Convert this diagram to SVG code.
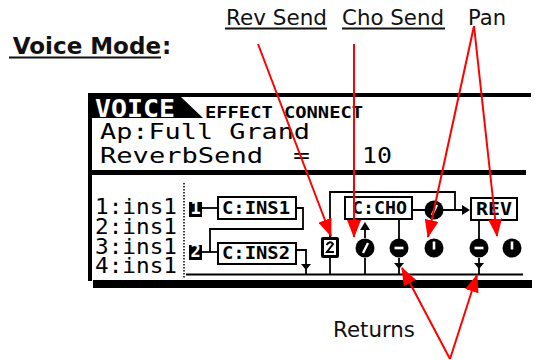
<svg xmlns="http://www.w3.org/2000/svg" width="548" height="360" viewBox="0 0 548 360">
<defs>
<style>
.lbl{font-family:"DejaVu Sans","Liberation Sans",sans-serif;font-size:21px;fill:#111}
.ttl{font-family:"DejaVu Sans","Liberation Sans",sans-serif;font-size:23px;font-weight:bold;fill:#111}
.lcd{font-family:"DejaVu Sans Mono","Liberation Mono",monospace;fill:#000}
.row{font-family:"DejaVu Sans Mono","Liberation Mono",monospace;font-size:21px;fill:#000}
.bt{font-family:"DejaVu Sans Mono","Liberation Mono",monospace;font-size:17px;font-weight:bold;fill:#000}
.wire{stroke:#000;stroke-width:1.8;fill:none}
.box{fill:#fff;stroke:#000;stroke-width:2}
.red{stroke:#f00;stroke-width:2;fill:none}
.ul{stroke:#111;stroke-width:2}
</style>
<marker id="ah" viewBox="0 0 18 14" refX="17" refY="7" markerWidth="18" markerHeight="14" markerUnits="userSpaceOnUse" orient="auto"><path d="M0,0 L18,7 L0,14 z" fill="#f00"/></marker>
<g id="kRet"><circle r="9.5" fill="#000"/><rect x="-4.5" y="-1.3" width="9" height="2.6" fill="#fff"/></g>
<g id="kPan"><circle r="9.5" fill="#000"/><rect x="-1.3" y="-6.5" width="2.6" height="8" fill="#fff"/></g>
<g id="kDia"><circle r="9.5" fill="#000"/><path d="M-2,5 L3,-5" stroke="#fff" stroke-width="2.4"/></g>
<path id="dn" d="M-5,-6 L5,-6 L0,0 z" fill="#000"/>
</defs>

<g id="title">
<text class="ttl" x="161" y="54" text-anchor="end">Voice Mode</text>
<text class="ttl" x="162" y="54">:</text>
<line class="ul" x1="9" y1="57.5" x2="161" y2="57.5"/>
</g>
<g id="lbl-rev"><text class="lbl" x="226" y="25" textLength="101" lengthAdjust="spacingAndGlyphs">Rev Send</text><line class="ul" x1="225" y1="28.5" x2="327" y2="28.5"/></g>
<g id="lbl-cho"><text class="lbl" x="342" y="25" textLength="102" lengthAdjust="spacingAndGlyphs">Cho Send</text><line class="ul" x1="342" y1="28.5" x2="445" y2="28.5"/></g>
<g id="lbl-pan"><text class="lbl" x="468" y="25" textLength="38" lengthAdjust="spacingAndGlyphs">Pan</text></g>
<g id="lbl-returns"><text class="lbl" x="333" y="337" textLength="82" lengthAdjust="spacingAndGlyphs">Returns</text></g>

<g id="lcd">
<rect x="88" y="93" width="443" height="4" fill="#000"/>
<rect x="88" y="93" width="4" height="188" fill="#000"/>
<rect x="93" y="280" width="439" height="8" fill="#000"/>
<rect x="88" y="170" width="438" height="5" fill="#000"/>
<path d="M91,97 H181 L203,118 H91 z" fill="#000"/>
<text class="lcd" x="95" y="117" font-size="24" font-weight="bold" style="fill:#fff" textLength="80" lengthAdjust="spacingAndGlyphs">VOICE</text>
<text class="lcd" x="205" y="118" font-size="15" font-weight="bold" textLength="158" lengthAdjust="spacingAndGlyphs">EFFECT CONNECT</text>
<text class="lcd" x="100" y="139" font-size="22" textLength="210" lengthAdjust="spacingAndGlyphs">Ap:Full Grand</text>
<text class="lcd" x="100" y="163" font-size="22" textLength="163" lengthAdjust="spacingAndGlyphs">ReverbSend</text>
<text class="lcd" x="293" y="163" font-size="22" textLength="17" lengthAdjust="spacingAndGlyphs">=</text>
<text class="lcd" x="362" y="163" font-size="22" textLength="30" lengthAdjust="spacingAndGlyphs">10</text>
<text class="row" x="95" y="214" textLength="82" lengthAdjust="spacingAndGlyphs">1:ins1</text>
<text class="row" x="95" y="234" textLength="82" lengthAdjust="spacingAndGlyphs">2:ins1</text>
<text class="row" x="95" y="254" textLength="82" lengthAdjust="spacingAndGlyphs">3:ins1</text>
<text class="row" x="95" y="273" textLength="82" lengthAdjust="spacingAndGlyphs">4:ins1</text>
<line x1="184" y1="183" x2="184" y2="278" stroke="#000" stroke-width="1.5" stroke-dasharray="1.5,1.5"/>
</g>

<g id="connectors">
<path class="wire" d="M202,208 H218"/>
<path class="wire" d="M296,208 H303 V229 H210 V252"/>
<path class="wire" d="M202,252 H218"/>
<path class="wire" d="M296,250 H306 V274"/>
<use href="#dn" x="306" y="270"/>
<path class="wire" d="M186,274.5 H523"/>
<path class="wire" d="M330,237 V192 H455 V210"/>
<path class="wire" d="M412,210 H462"/>
<path d="M462,205 L470,210 L462,215 z" fill="#000"/>
<path class="wire" d="M330,258 V274"/>
<path class="wire" d="M365,229 V238"/>
<path d="M360,230 L370,230 L365,222 z" fill="#000"/>
<path class="wire" d="M365,258 V274"/>
<path class="wire" d="M399,219 V239"/>
<path class="wire" d="M399,258 V274"/>
<use href="#dn" x="399" y="269"/>
<path class="wire" d="M479,220 V239"/>
<path class="wire" d="M479,258 V274"/>
<use href="#dn" x="479" y="269"/>
</g>

<g id="sw1"><rect x="189" y="202" width="13" height="15" fill="#000"/><text class="bt" x="195.5" y="214" font-size="13" text-anchor="middle" style="fill:#fff">1</text></g>
<g id="sw2"><rect x="189" y="245" width="13" height="15" fill="#000"/><text class="bt" x="195.5" y="257" font-size="13" text-anchor="middle" style="fill:#fff">2</text></g>
<g id="ins1"><rect class="box" x="218" y="197" width="78" height="22"/><text class="bt" x="222" y="214" textLength="68" lengthAdjust="spacingAndGlyphs">C:INS1</text></g>
<g id="ins2"><rect class="box" x="218" y="243" width="78" height="21"/><text class="bt" x="222" y="259" textLength="68" lengthAdjust="spacingAndGlyphs">C:INS2</text></g>
<g id="cho"><rect class="box" x="345" y="197" width="67" height="22"/><text class="bt" x="352" y="214" textLength="55" lengthAdjust="spacingAndGlyphs">C:CHO</text></g>
<g id="rev"><rect class="box" x="471" y="198" width="46" height="22"/><text class="bt" x="476" y="215" textLength="36" lengthAdjust="spacingAndGlyphs">REV</text></g>
<g id="revsend"><rect x="321" y="237" width="18" height="21" rx="2" fill="#000"/><rect x="324" y="240" width="12" height="15" fill="#fff"/><path d="M326.5,245 Q330,240 333,244 L327,252 H334" stroke="#000" stroke-width="2" fill="none"/></g>
<g id="chosend"><use href="#kDia" x="365" y="248"/></g>
<g id="chopan"><use href="#kDia" x="434" y="210"/></g>
<g id="choret"><use href="#kRet" x="399" y="248"/></g>
<g id="pan1"><use href="#kPan" x="434" y="248"/></g>
<g id="revret"><use href="#kRet" x="479" y="248"/></g>
<g id="pan2"><use href="#kPan" x="512" y="248"/></g>

<g id="callouts">
<line class="red" x1="258" y1="44" x2="331" y2="236" marker-end="url(#ah)"/>
<line class="red" x1="354" y1="44" x2="354" y2="237" marker-end="url(#ah)"/>
<line class="red" x1="474" y1="26" x2="428" y2="237" marker-end="url(#ah)"/>
<line class="red" x1="474" y1="26" x2="497" y2="236" marker-end="url(#ah)"/>
<line class="red" x1="450" y1="359" x2="402" y2="268" marker-end="url(#ah)"/>
<line class="red" x1="450" y1="359" x2="477" y2="275" marker-end="url(#ah)"/>
</g>
</svg>
